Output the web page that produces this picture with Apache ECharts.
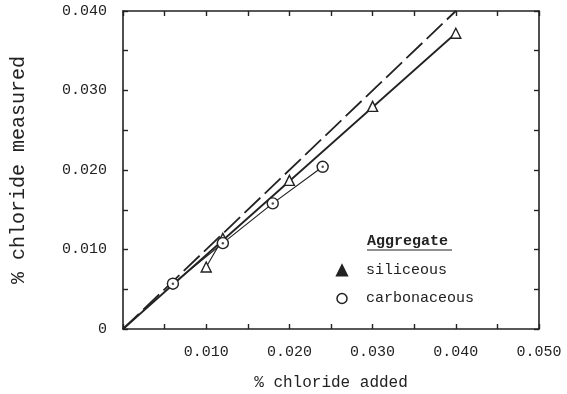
<!DOCTYPE html>
<html>
<head>
<meta charset="utf-8">
<script src="https://cdn.jsdelivr.net/npm/echarts@6/dist/echarts.min.js"></script>
<style>html,body{margin:0;padding:0;background:#fff}#c{width:567px;height:394px}</style>
</head>
<body>
<div id="c"></div>
<script>
// Data
var siliceousX = [0.010, 0.012, 0.020, 0.030, 0.040];
var siliceousY = [0.0078, 0.0114, 0.0187, 0.0280, 0.0372];
var carbonX = [0.006, 0.012, 0.018, 0.024];
var carbonY = [0.0057, 0.0108, 0.0158, 0.0204];
var fitX = [0, 0.040];
var fitY = [0, 0.0372];
var equalX = [0, 0.040];
var equalY = [0, 0.040];
var shortX = [0.010, 0.012];
var shortY = [0.0078, 0.0114];
var xTickLabels = ['0.010', '0.020', '0.030', '0.040', '0.050'];
var yTickLabels = ['0', '0.010', '0.020', '0.030', '0.040'];

function pairs(xs, ys) { return xs.map(function (x, i) { return [x, ys[i]]; }); }
var INK = '#222';
var FONT = '"Liberation Mono", "DejaVu Sans Mono", monospace';

function xFmt(v) {
  var k = Math.round(v * 1000);
  if (k > 0 && k % 10 === 0) { var idx = k / 10 - 1; return xTickLabels[idx] || ''; }
  return '';
}
function yFmt(v) {
  var k = Math.round(v * 1000);
  if (k % 10 === 0) { return yTickLabels[k / 10] || ''; }
  return '';
}

var chart = echarts.init(document.getElementById('c'), null, { renderer: 'canvas' });
var axisLine = { show: true, onZero: false, lineStyle: { color: INK, width: 1.6 } };
var axisTick = { show: true, inside: true, length: 5, lineStyle: { color: INK, width: 1.4 } };

chart.setOption({
  backgroundColor: '#fff',
  animation: false,
  grid: { left: 123, right: 28, top: 11, bottom: 65, containLabel: false, outerBoundsMode: 'none' },
  xAxis: [
    {
      type: 'value', min: 0, max: 0.05, interval: 0.005, position: 'bottom',
      axisLine: axisLine, axisTick: axisTick, splitLine: { show: false },
      axisLabel: { formatter: xFmt, color: INK, fontFamily: FONT, fontSize: 15, margin: 16, showMinLabel: true, showMaxLabel: true },
      name: '% chloride added', nameLocation: 'middle', nameGap: 46,
      nameTextStyle: { color: INK, fontFamily: FONT, fontSize: 16 }
    },
    {
      type: 'value', min: 0, max: 0.05, interval: 0.005, position: 'top',
      axisLine: axisLine, axisTick: axisTick, splitLine: { show: false },
      axisLabel: { show: false }
    }
  ],
  yAxis: [
    {
      type: 'value', min: 0, max: 0.04, interval: 0.005, position: 'left',
      axisLine: axisLine, axisTick: axisTick, splitLine: { show: false },
      axisLabel: { formatter: yFmt, color: INK, fontFamily: FONT, fontSize: 15, margin: 16 },
      name: '% chloride measured', nameLocation: 'middle', nameGap: 94, nameRotate: 90,
      nameTextStyle: { color: INK, fontFamily: FONT, fontSize: 20 }
    },
    {
      type: 'value', min: 0, max: 0.04, interval: 0.005, position: 'right',
      axisLine: axisLine, axisTick: axisTick, splitLine: { show: false },
      axisLabel: { show: false }
    }
  ],
  legend: {
    orient: 'vertical', left: 331, top: 258, itemWidth: 10, itemHeight: 10, itemGap: 13,
    selectedMode: false,
    textStyle: { color: INK, fontFamily: FONT, fontSize: 15, padding: [0, 0, 0, 14] },
    data: [
      { name: 'siliceous', icon: 'triangle', itemStyle: { color: INK, borderColor: INK } },
      { name: 'carbonaceous', icon: 'circle', itemStyle: { color: '#fff', borderColor: INK, borderWidth: 1.5 } }
    ]
  },
  graphic: [
    { type: 'text', left: 367, top: 234, style: { text: 'Aggregate', fill: INK, font: 'bold 15px ' + FONT } },
    { type: 'line', shape: { x1: 367, y1: 250, x2: 452, y2: 250 }, style: { stroke: INK, lineWidth: 1.2 } }
  ],
  series: [
    { name: 'equal', type: 'line', data: pairs(equalX, equalY), symbol: 'none', silent: true,
      lineStyle: { color: INK, width: 1.8, type: [22, 6] }, z: 2 },
    { name: 'fit', type: 'line', data: pairs(fitX, fitY), symbol: 'none', silent: true,
      lineStyle: { color: INK, width: 1.8 }, z: 2 },
    { name: 'carbonLine', type: 'line', data: pairs(carbonX, carbonY), symbol: 'none', silent: true,
      lineStyle: { color: INK, width: 1.2 }, z: 2 },
    { name: 'shortLine', type: 'line', data: pairs(shortX, shortY), symbol: 'none', silent: true,
      lineStyle: { color: INK, width: 1.1 }, z: 2 },
    { name: 'siliceous', type: 'scatter', data: pairs(siliceousX, siliceousY), symbol: 'triangle', symbolSize: 10,
      itemStyle: { color: '#fff', borderColor: INK, borderWidth: 1.4, opacity: 1 }, z: 5 },
    { name: 'carbonaceous', type: 'scatter', data: pairs(carbonX, carbonY), symbol: 'circle', symbolSize: 11,
      itemStyle: { color: '#fff', borderColor: INK, borderWidth: 1.4, opacity: 1 }, z: 5 },
    { name: 'carbonDot', type: 'scatter', data: pairs(carbonX, carbonY), symbol: 'circle', symbolSize: 2.5,
      itemStyle: { color: INK }, z: 6, silent: true }
  ]
});
</script>
</body>
</html>
